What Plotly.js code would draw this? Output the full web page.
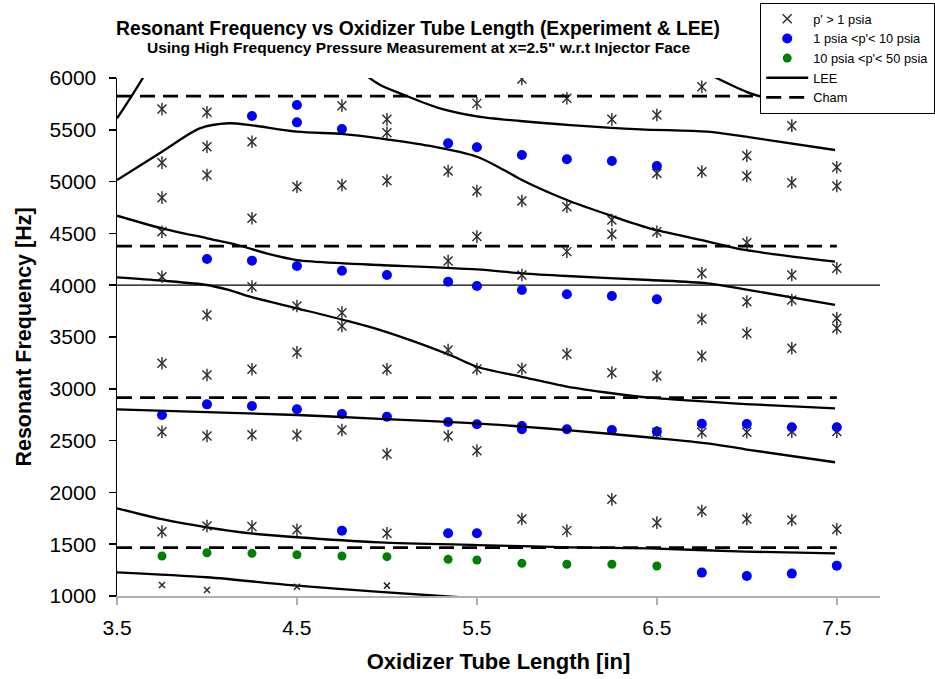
<!DOCTYPE html>
<html><head><meta charset="utf-8">
<script src="https://cdn.plot.ly/plotly-3.0.1.min.js"></script>
<style>html,body{margin:0;padding:0;background:#fff}#chart{width:935px;height:679px}</style>
</head><body><div id="chart"></div>
<script>
// ---- tick labels ----
const xTickVals = [3.5, 4.5, 5.5, 6.5, 7.5];
const xTickText = ['3.5', '4.5', '5.5', '6.5', '7.5'];
const yTickVals = [1000, 1500, 2000, 2500, 3000, 3500, 4000, 4500, 5000, 5500, 6000];
const yTickText = ['1000', '1500', '2000', '2500', '3000', '3500', '4000', '4500', '5000', '5500', '6000'];
const refLine = 4000;

// ---- experiment: p' > 1 psia ----
const pAboveX = [3.75,3.75,3.75,3.75,3.75,3.75,3.75,3.75,
  4,4,4,4,4,4,4,
  4.25,4.25,4.25,4.25,4.25,4.25,
  4.5,4.5,4.5,4.5,4.5,
  4.75,4.75,4.75,4.75,4.75,
  5,5,5,5,5,5,
  5.34,5.34,5.34,5.34,
  5.5,5.5,5.5,5.5,5.5,
  5.75,5.75,5.75,5.75,5.75,
  6,6,6,6,6,
  6.25,6.25,6.25,6.25,6.25,
  6.5,6.5,6.5,6.5,6.5,6.5,
  6.75,6.75,6.75,6.75,6.75,6.75,6.75,
  7,7,7,7,7,7,7,
  7.25,7.25,7.25,7.25,7.25,7.25,7.25,
  7.5,7.5,7.5,7.5,7.5,7.5,7.5];
const pAboveY = [5700,5183,4845,4516,4082,3246,2586,1621,
  5669,5337,5064,3712,3133,2544,1676,
  5385,4646,3986,3188,2557,1670,
  4951,3799,3352,2553,1640,
  5733,4967,3735,3606,2602,
  5601,5472,5009,3188,2371,1605,
  5102,4234,3375,2544,
  5755,4909,4469,3191,2403,
  5990,4813,4098,3194,1743,
  5804,4758,4324,3336,1631,
  5601,4629,4491,3156,1933,
  5643,5080,4516,3124,2580,1708,
  5916,5096,4115,3674,3317,2580,1820,
  5250,5054,4410,3841,3536,2580,1743,
  5540,4990,4098,3857,3391,2587,1734,
  5138,4958,4163,3680,3584,2587,1644];
// small p' > 1 psia markers near the bottom
const pAboveLowX = [3.75, 4, 4.5, 5];
const pAboveLowY = [1106, 1058, 1090, 1100];

// ---- experiment: 1 psia < p' < 10 psia ----
const pMidX = [3.75, 4,4, 4.25,4.25,4.25, 4.5,4.5,4.5,4.5, 4.75,4.75,4.75,4.75, 5,5,
  5.34,5.34,5.34,5.34, 5.5,5.5,5.5,5.5, 5.75,5.75,5.75,5.75, 6,6,6, 6.25,6.25,6.25,
  6.5,6.5,6.5, 6.75,6.75, 7,7, 7.25,7.25, 7.5,7.5];
const pMidY = [2747, 4253,2850, 5633,4237,2834, 5739,5572,4185,2802, 5508,4140,2757,1631, 4098,2731,
  5369,4034,2680,1605, 5331,3992,2658,1605, 5257,3954,2640,2610, 5215,3912,2609, 5199,3896,2602,
  5151,3864,2587, 2662,1226, 2660,1193, 2629,1216, 2629,1293];

// ---- experiment: 10 psia < p' < 50 psia ----
const pHighX = [3.75, 4, 4.25, 4.5, 4.75, 5, 5.34, 5.5, 5.75, 6, 6.25, 6.5];
const pHighY = [1386, 1418, 1412, 1398, 1386, 1380, 1354, 1347, 1315, 1306, 1306, 1290];

// ---- LEE model curves ----
const leeAX = [3.5, 3.59, 3.66, 3.70];
const leeAY = [5610, 5850, 6045, 6150];
const leeBX = [4.80, 4.84, 4.96, 5.09, 5.28, 5.5, 5.74, 6.02, 6.41, 6.78, 7.02, 7.49];
const leeBY = [6130, 6080, 5935, 5840, 5715, 5630, 5585, 5546, 5505, 5482, 5427, 5305];
const leeCX = [6.72, 6.78, 7.02, 7.25, 7.49];
const leeCY = [6100, 6045, 5852, 5750, 5669];
const leeDX = [3.5, 3.75, 3.96, 4.12, 4.24, 4.5, 4.76, 4.96, 5.24, 5.5, 5.65, 5.75, 6.0, 6.25, 6.46, 6.75, 6.99, 7.49];
const leeDY = [5015, 5289, 5514, 5563, 5546, 5482, 5459, 5418, 5344, 5240, 5112, 5015, 4822, 4668, 4549, 4436, 4340, 4227];
const leeEX = [3.5, 3.75, 4.0, 4.17, 4.33, 4.5, 4.76, 4.96, 5.5, 5.75, 6.0, 6.46, 6.78, 6.99, 7.49];
const leeEY = [4671, 4549, 4453, 4388, 4308, 4243, 4211, 4195, 4153, 4115, 4089, 4050, 4018, 3960, 3809];
const leeFX = [3.5, 3.75, 4.0, 4.12, 4.24, 4.5, 4.76, 4.96, 5.35, 5.5, 5.76, 6.0, 6.25, 6.46, 6.78, 6.99, 7.49];
const leeFY = [4076, 4044, 4002, 3954, 3889, 3777, 3664, 3568, 3326, 3213, 3111, 3021, 2957, 2914, 2876, 2853, 2812];
const leeGX = [3.5, 4.5, 4.96, 5.5, 5.75, 6.0, 6.46, 6.78, 6.99, 7.49];
const leeGY = [2802, 2747, 2710, 2667, 2635, 2602, 2530, 2474, 2416, 2291];
const leeHX = [3.5, 3.75, 4.0, 4.24, 4.5, 4.96, 5.5, 6.02, 6.46, 6.99, 7.49];
const leeHY = [1847, 1741, 1663, 1605, 1567, 1518, 1492, 1470, 1460, 1428, 1412];
const leeIX = [3.5, 4.0, 4.5, 4.96, 5.5, 5.7];
const leeIY = [1229, 1181, 1100, 1040, 978, 960];

// ---- Cham model levels ----
const chamY = [5826, 4378, 2914, 1466];
const chamXStart = 3.5, chamXEnd = 7.5;

// join curves with gaps
function joinCurves(xs, ys) {
  const X = [], Y = [];
  xs.forEach((cx, i) => { if (i) { X.push(null); Y.push(null); } X.push(...cx); Y.push(...ys[i]); });
  return {X, Y};
}
const lee = joinCurves([leeAX, leeBX, leeCX, leeDX, leeEX, leeFX, leeGX, leeHX, leeIX],
                       [leeAY, leeBY, leeCY, leeDY, leeEY, leeFY, leeGY, leeHY, leeIY]);
const chamX = [], chamYs = [];
chamY.forEach((v, i) => { if (i) { chamX.push(null); chamYs.push(null); } chamX.push(chamXStart, chamXEnd); chamYs.push(v, v); });

const FONT = 'Liberation Sans, Arial, sans-serif';
const starColor = '#2a2a2a';

const traces = [
  { x: pAboveX, y: pAboveY, type: 'scatter', mode: 'markers', name: "p' > 1 psia",
    marker: { symbol: 'x-thin', size: 9, color: starColor, line: { color: starColor, width: 1.4 } } },
  { x: pMidX, y: pMidY, type: 'scatter', mode: 'markers', name: '1 psia &lt;p\'&lt; 10 psia',
    marker: { symbol: 'circle', size: 10, color: '#0000ff' } },
  { x: pHighX, y: pHighY, type: 'scatter', mode: 'markers', name: '10 psia &lt;p\'&lt; 50 psia',
    marker: { symbol: 'circle', size: 9, color: '#008000' } },
  { x: lee.X, y: lee.Y, type: 'scatter', mode: 'lines', name: 'LEE', connectgaps: false,
    line: { color: 'black', width: 2.3, shape: 'spline', smoothing: 0.8 } },
  { x: chamX, y: chamYs, type: 'scatter', mode: 'lines', name: 'Cham', connectgaps: false,
    line: { color: 'black', width: 2.8, dash: '15px,8px' } },
  { x: pAboveX, y: pAboveY, type: 'scatter', mode: 'markers', showlegend: false, hoverinfo: 'skip',
    marker: { symbol: 'line-ns', size: 9, color: starColor, line: { color: starColor, width: 1.4 } } },
  { x: pAboveLowX, y: pAboveLowY, type: 'scatter', mode: 'markers', showlegend: false,
    marker: { symbol: 'x-thin', size: 6, color: starColor, line: { color: starColor, width: 1.5 } } }
];

const layout = {
  width: 935, height: 679,
  margin: { l: 117, r: 55, t: 78, b: 83, autoexpand: false },
  paper_bgcolor: 'white', plot_bgcolor: 'white',
  font: { family: FONT, color: 'black' },
  showlegend: true,
  title: { text: '<b>Resonant Frequency vs Oxidizer Tube Length (Experiment &amp; LEE)</b>',
    font: { size: 19.3, family: FONT, color: 'black' },
    xref: 'container', yref: 'container', x: 0.447, y: 0.959, xanchor: 'center', yanchor: 'middle' },
  annotations: [{
    text: '<b>Using High Frequency Pressure Measurement at x=2.5" w.r.t Injector Face</b>',
    xref: 'paper', yref: 'paper', x: 0.3947, y: 1.058, xanchor: 'center', yanchor: 'middle',
    showarrow: false, font: { size: 15.5, family: FONT, color: 'black' } }],
  xaxis: {
    range: [3.5, 7.74], tickvals: xTickVals, ticktext: xTickText,
    showline: true, linecolor: '#b0b0b0', linewidth: 1.5, mirror: false,
    ticks: 'outside', ticklen: 7, tickcolor: '#b0b0b0', tickwidth: 1.5,
    showgrid: false, zeroline: false, automargin: false, ticklabelstandoff: 5,
    tickfont: { size: 21, family: FONT, color: 'black' },
    title: { text: '<b>Oxidizer Tube Length [in]</b>', font: { size: 22, family: FONT, color: 'black' }, standoff: 16 }
  },
  yaxis: {
    range: [1000, 6000], tickvals: yTickVals, ticktext: yTickText,
    showline: true, linecolor: 'black', linewidth: 1.5,
    ticks: 'outside', ticklen: 7, tickcolor: 'black', tickwidth: 1.5,
    showgrid: false, zeroline: false, automargin: false, ticklabelstandoff: 8,
    tickfont: { size: 21, family: FONT, color: 'black' },
    title: { text: '<b>Resonant Frequency [Hz]</b>', font: { size: 21.5, family: FONT, color: 'black' }, standoff: 12 }
  },
  shapes: [{ type: 'line', xref: 'paper', x0: 0, x1: 1, yref: 'y', y0: refLine, y1: refLine,
    line: { color: 'black', width: 1.2 }, layer: 'below' }],
  legend: {
    x: 0.843, y: 1.1448, xanchor: 'left', yanchor: 'top',
    bgcolor: 'white', bordercolor: 'black', borderwidth: 1,
    font: { size: 12.8, family: FONT, color: 'black' },
    itemwidth: 42, tracegroupgap: 0
  }
};

Plotly.newPlot('chart', traces, layout, { displayModeBar: false, staticPlot: true });
</script>
</body></html>
